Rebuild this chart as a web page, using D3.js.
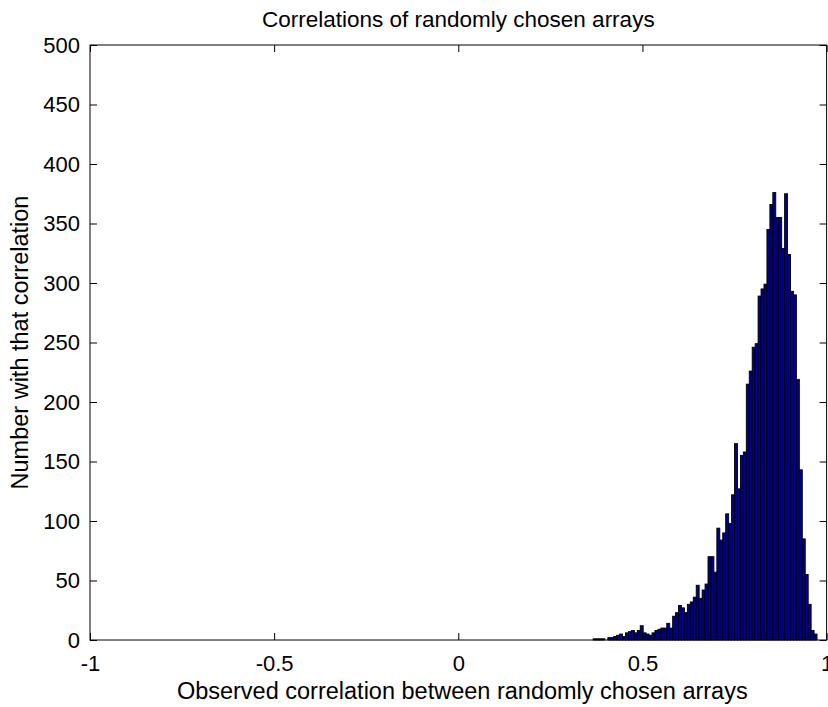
<!DOCTYPE html>
<html>
<head>
<meta charset="utf-8">
<script src="https://cdn.jsdelivr.net/npm/d3@7"></script>
<style>
  html, body { margin: 0; padding: 0; background: #fff; }
  svg { display: block; }
  text { font-family: "Liberation Sans", Arial, Helvetica, sans-serif; fill: #000; }
</style>
</head>
<body>
<svg id="chart" width="828" height="707"></svg>
<script>
// Histogram of correlation coefficients between randomly chosen arrays
const binCenters = [
  0.370, 0.378, 0.386, 0.394, 0.402, 0.410, 0.418, 0.426, 0.434, 0.442,
  0.450, 0.458, 0.466, 0.474, 0.482, 0.490, 0.498, 0.506, 0.514, 0.522,
  0.530, 0.538, 0.546, 0.554, 0.562, 0.570, 0.578, 0.586, 0.594, 0.602,
  0.610, 0.618, 0.626, 0.634, 0.642, 0.650, 0.658, 0.666, 0.674, 0.682,
  0.690, 0.698, 0.706, 0.714, 0.722, 0.730, 0.738, 0.746, 0.754, 0.762,
  0.770, 0.778, 0.786, 0.794, 0.802, 0.810, 0.818, 0.826, 0.834, 0.842,
  0.850, 0.858, 0.866, 0.874, 0.882, 0.890, 0.898, 0.906, 0.914, 0.922,
  0.930, 0.938, 0.946, 0.954, 0.962, 0.970
];
const binWidth = 0.008;
const counts = [
  1, 1, 1, 1, 0, 2, 2, 3, 4, 5,
  3, 6, 7, 8, 6, 8, 12, 6, 5, 4,
  6, 8, 9, 10, 10, 14, 10, 20, 23, 29,
  27, 23, 30, 32, 36, 46, 35, 42, 47, 70,
  70, 57, 94, 84, 90, 106, 98, 122, 165, 127,
  155, 158, 215, 226, 246, 249, 289, 295, 299, 345,
  366, 376, 355, 355, 329, 375, 324, 293, 290, 219,
  143, 85, 55, 30, 8, 5
];
const xTicks = [-1, -0.5, 0, 0.5, 1];
const xTickLabels = ["-1", "-0.5", "0", "0.5", "1"];
const yTicks = [0, 50, 100, 150, 200, 250, 300, 350, 400, 450, 500];
const titleText = "Correlations of randomly chosen arrays";
const xLabelText = "Observed correlation between randomly chosen arrays";
const yLabelText = "Number with that correlation";

(function draw() {
  const svg = d3.select("#chart");
  const pLeft = 90, pRight = 826.6, pTop = 45, pBottom = 640;

  const x = d3.scaleLinear().domain([-1, 1]).range([pLeft, pRight]);
  const y = d3.scaleLinear().domain([0, 500]).range([pBottom, pTop]);

  const bins = binCenters.map((c, i) => ({ c, n: counts[i] })).filter(d => d.n > 0);

  // bars
  svg.append("g")
    .selectAll("rect")
    .data(bins)
    .join("rect")
    .attr("x", d => x(d.c - binWidth / 2))
    .attr("width", d => x(d.c + binWidth / 2) - x(d.c - binWidth / 2))
    .attr("y", d => y(d.n))
    .attr("height", d => y(0) - y(d.n))
    .attr("fill", "#00008c")
    .attr("stroke", "#000")
    .attr("stroke-width", 0.9);

  const tickLen = 7;
  const fontSize = 22;

  // bottom axis with labels
  const gx = svg.append("g")
    .attr("transform", `translate(0,${pBottom})`)
    .call(d3.axisBottom(x).tickValues(xTicks)
      .tickFormat((d, i) => xTickLabels[i])
      .tickSize(-tickLen).tickSizeOuter(0).tickPadding(15));

  // top axis ticks
  const gxt = svg.append("g")
    .attr("transform", `translate(0,${pTop})`)
    .call(d3.axisTop(x).tickValues(xTicks).tickFormat("")
      .tickSize(-tickLen).tickSizeOuter(0));

  // left axis with labels
  const gy = svg.append("g")
    .attr("transform", `translate(${pLeft},0)`)
    .call(d3.axisLeft(y).tickValues(yTicks).tickFormat(d3.format("d"))
      .tickSize(-tickLen).tickSizeOuter(0).tickPadding(10));

  // right axis ticks
  const gyr = svg.append("g")
    .attr("transform", `translate(${pRight},0)`)
    .call(d3.axisRight(y).tickValues(yTicks).tickFormat("")
      .tickSize(-tickLen).tickSizeOuter(0));

  [gx, gxt, gy, gyr].forEach(g => {
    g.select(".domain").remove();
    g.selectAll("line").attr("stroke", "#000").attr("stroke-width", 1);
    g.selectAll("text")
      .style("font-family", '"Liberation Sans", Arial, sans-serif')
      .style("font-size", fontSize + "px")
      .attr("fill", "#000");
  });

  // axes box
  svg.append("rect")
    .attr("x", pLeft).attr("y", pTop)
    .attr("width", pRight - pLeft).attr("height", pBottom - pTop)
    .attr("fill", "none").attr("stroke", "#000").attr("stroke-width", 1);

  // title and axis labels
  svg.append("text")
    .attr("x", (pLeft + pRight) / 2).attr("y", 27)
    .attr("text-anchor", "middle")
    .style("font-size", "22.5px")
    .text(titleText);

  svg.append("text")
    .attr("x", (pLeft + pRight) / 2 + 4).attr("y", 699)
    .attr("text-anchor", "middle")
    .style("font-size", "23.5px")
    .text(xLabelText);

  svg.append("text")
    .attr("transform", `translate(28,${(pTop + pBottom) / 2}) rotate(-90)`)
    .attr("text-anchor", "middle")
    .style("font-size", "23.5px")
    .text(yLabelText);
})();
</script>
</body>
</html>
